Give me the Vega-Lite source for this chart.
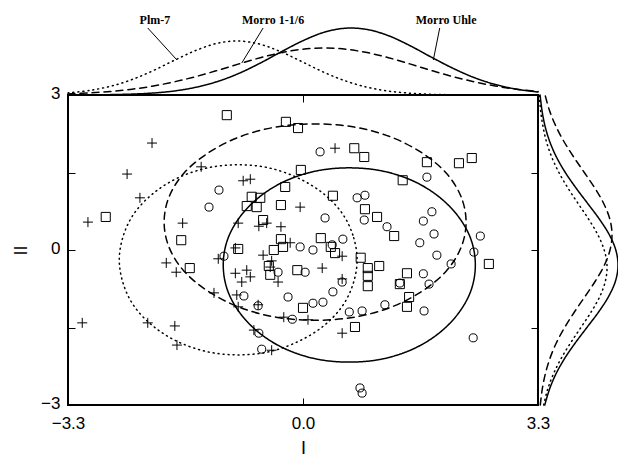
{
 "$schema": "https://vega.github.io/schema/vega-lite/v6.json",
 "padding": {"left": 11, "top": 5, "right": 0, "bottom": 5},
 "background": "white",
 "bounds": "flush",
 "config": {"view": {"stroke": null}, "font": "Liberation Sans", "concat": {"spacing": 0}},
 "datasets": {
  "pts": [
   {"g":"Plm-7","x":-2.12,"y":2.07},{"g":"Plm-7","x":-2.47,"y":1.47},{"g":"Plm-7","x":-2.29,"y":1.01},{"g":"Plm-7","x":-3.02,"y":0.54},
   {"g":"Plm-7","x":-1.43,"y":1.61},{"g":"Plm-7","x":-0.84,"y":1.34},{"g":"Plm-7","x":-0.74,"y":1.37},{"g":"Plm-7","x":-0.04,"y":0.83},
   {"g":"Plm-7","x":0.45,"y":1.97},{"g":"Plm-7","x":-0.91,"y":0.52},{"g":"Plm-7","x":-1.69,"y":0.52},{"g":"Plm-7","x":-0.62,"y":0.46},
   {"g":"Plm-7","x":-0.51,"y":0.52},{"g":"Plm-7","x":-0.31,"y":0.45},{"g":"Plm-7","x":-0.18,"y":0.14},{"g":"Plm-7","x":-0.95,"y":0.04},
   {"g":"Plm-7","x":-0.56,"y":-0.10},{"g":"Plm-7","x":-1.19,"y":-0.17},{"g":"Plm-7","x":-0.44,"y":-0.21},{"g":"Plm-7","x":-0.46,"y":-0.33},
   {"g":"Plm-7","x":-0.95,"y":-0.45},{"g":"Plm-7","x":-0.79,"y":-0.39},{"g":"Plm-7","x":-0.74,"y":-0.52},{"g":"Plm-7","x":-1.92,"y":-0.25},
   {"g":"Plm-7","x":-1.78,"y":-0.43},{"g":"Plm-7","x":-0.86,"y":-0.62},{"g":"Plm-7","x":-0.35,"y":-0.62},{"g":"Plm-7","x":0.27,"y":-0.35},
   {"g":"Plm-7","x":0.55,"y":-0.12},{"g":"Plm-7","x":0.55,"y":-0.56},{"g":"Plm-7","x":-1.25,"y":-0.83},{"g":"Plm-7","x":-0.93,"y":-0.87},
   {"g":"Plm-7","x":-0.91,"y":-1.10},{"g":"Plm-7","x":-0.63,"y":-1.06},{"g":"Plm-7","x":-0.27,"y":-1.30},{"g":"Plm-7","x":0.07,"y":-1.35},
   {"g":"Plm-7","x":-3.10,"y":-1.41},{"g":"Plm-7","x":-2.18,"y":-1.41},{"g":"Plm-7","x":-1.80,"y":-1.47},{"g":"Plm-7","x":-1.77,"y":-1.84},
   {"g":"Plm-7","x":-0.69,"y":-1.55},{"g":"Plm-7","x":-0.44,"y":-1.94},{"g":"Plm-7","x":0.55,"y":-1.61},
   {"g":"Morro Uhle","x":-1.18,"y":1.16},{"g":"Morro Uhle","x":-1.32,"y":0.83},{"g":"Morro Uhle","x":0.24,"y":1.90},{"g":"Morro Uhle","x":1.74,"y":1.41},
   {"g":"Morro Uhle","x":0.76,"y":1.01},{"g":"Morro Uhle","x":0.87,"y":1.06},{"g":"Morro Uhle","x":0.86,"y":0.58},{"g":"Morro Uhle","x":0.31,"y":0.62},
   {"g":"Morro Uhle","x":1.18,"y":0.45},{"g":"Morro Uhle","x":1.81,"y":0.74},{"g":"Morro Uhle","x":1.69,"y":0.56},{"g":"Morro Uhle","x":1.84,"y":0.31},
   {"g":"Morro Uhle","x":1.64,"y":0.14},{"g":"Morro Uhle","x":2.49,"y":0.27},{"g":"Morro Uhle","x":2.40,"y":-0.04},{"g":"Morro Uhle","x":1.88,"y":-0.10},
   {"g":"Morro Uhle","x":2.08,"y":-0.27},{"g":"Morro Uhle","x":1.69,"y":-0.46},{"g":"Morro Uhle","x":1.36,"y":-0.64},{"g":"Morro Uhle","x":1.77,"y":-0.66},
   {"g":"Morro Uhle","x":0.41,"y":0.10},{"g":"Morro Uhle","x":0.56,"y":0.21},{"g":"Morro Uhle","x":-0.04,"y":0.06},{"g":"Morro Uhle","x":0.14,"y":0.00},
   {"g":"Morro Uhle","x":0.03,"y":-0.43},{"g":"Morro Uhle","x":-0.35,"y":-0.43},{"g":"Morro Uhle","x":-1.11,"y":-0.12},{"g":"Morro Uhle","x":-0.21,"y":-0.91},
   {"g":"Morro Uhle","x":-0.83,"y":-0.89},{"g":"Morro Uhle","x":-0.63,"y":-1.08},{"g":"Morro Uhle","x":-0.15,"y":-1.34},{"g":"Morro Uhle","x":-0.62,"y":-1.61},
   {"g":"Morro Uhle","x":-0.58,"y":-1.92},{"g":"Morro Uhle","x":0.55,"y":-0.62},{"g":"Morro Uhle","x":0.42,"y":-0.81},{"g":"Morro Uhle","x":0.28,"y":-1.01},
   {"g":"Morro Uhle","x":0.14,"y":-1.03},{"g":"Morro Uhle","x":0.65,"y":-1.20},{"g":"Morro Uhle","x":0.83,"y":-1.18},{"g":"Morro Uhle","x":1.15,"y":-1.06},
   {"g":"Morro Uhle","x":1.70,"y":-1.18},{"g":"Morro Uhle","x":2.39,"y":-1.70},{"g":"Morro Uhle","x":0.80,"y":-2.67},{"g":"Morro Uhle","x":0.83,"y":-2.77},
   {"g":"Morro 1-1/6","x":-1.07,"y":2.61},{"g":"Morro 1-1/6","x":-0.24,"y":2.48},{"g":"Morro 1-1/6","x":-0.07,"y":2.36},{"g":"Morro 1-1/6","x":-2.77,"y":0.64},
   {"g":"Morro 1-1/6","x":-0.03,"y":1.55},{"g":"Morro 1-1/6","x":-0.25,"y":1.22},{"g":"Morro 1-1/6","x":-0.72,"y":1.03},{"g":"Morro 1-1/6","x":-0.60,"y":1.01},
   {"g":"Morro 1-1/6","x":-0.79,"y":0.85},{"g":"Morro 1-1/6","x":-0.65,"y":0.83},{"g":"Morro 1-1/6","x":-0.31,"y":0.87},{"g":"Morro 1-1/6","x":-0.56,"y":0.58},
   {"g":"Morro 1-1/6","x":-1.71,"y":0.19},{"g":"Morro 1-1/6","x":-0.31,"y":0.21},{"g":"Morro 1-1/6","x":-0.28,"y":0.06},{"g":"Morro 1-1/6","x":-0.41,"y":0.00},
   {"g":"Morro 1-1/6","x":-0.91,"y":0.02},{"g":"Morro 1-1/6","x":0.72,"y":1.97},{"g":"Morro 1-1/6","x":0.86,"y":1.80},{"g":"Morro 1-1/6","x":1.74,"y":1.70},
   {"g":"Morro 1-1/6","x":2.19,"y":1.68},{"g":"Morro 1-1/6","x":2.37,"y":1.78},{"g":"Morro 1-1/6","x":1.40,"y":1.35},{"g":"Morro 1-1/6","x":0.42,"y":1.05},
   {"g":"Morro 1-1/6","x":0.87,"y":0.79},{"g":"Morro 1-1/6","x":1.04,"y":0.64},{"g":"Morro 1-1/6","x":1.28,"y":0.27},{"g":"Morro 1-1/6","x":0.25,"y":0.23},
   {"g":"Morro 1-1/6","x":2.61,"y":-0.27},{"g":"Morro 1-1/6","x":1.46,"y":-0.45},{"g":"Morro 1-1/6","x":1.49,"y":-0.91},{"g":"Morro 1-1/6","x":0.39,"y":0.06},
   {"g":"Morro 1-1/6","x":0.45,"y":-0.06},{"g":"Morro 1-1/6","x":0.81,"y":-0.15},{"g":"Morro 1-1/6","x":0.91,"y":-0.35},{"g":"Morro 1-1/6","x":1.07,"y":-0.31},
   {"g":"Morro 1-1/6","x":0.91,"y":-0.50},{"g":"Morro 1-1/6","x":0.91,"y":-0.70},{"g":"Morro 1-1/6","x":-0.08,"y":-0.39},{"g":"Morro 1-1/6","x":-0.48,"y":-0.31},
   {"g":"Morro 1-1/6","x":-0.46,"y":-0.48},{"g":"Morro 1-1/6","x":-1.59,"y":-0.35},{"g":"Morro 1-1/6","x":0.00,"y":-1.12},{"g":"Morro 1-1/6","x":0.73,"y":-1.49},
   {"g":"Morro 1-1/6","x":1.36,"y":-0.66},{"g":"Morro 1-1/6","x":1.46,"y":-1.10}
  ],
  "ell": [
   {"g":"Morro Uhle","i":0,"x":2.42,"y":-0.29},{"g":"Morro Uhle","i":1,"x":2.36,"y":0.20},{"g":"Morro Uhle","i":2,"x":2.18,"y":0.65},{"g":"Morro Uhle","i":3,"x":1.90,"y":1.04},
   {"g":"Morro Uhle","i":4,"x":1.54,"y":1.34},{"g":"Morro Uhle","i":5,"x":1.11,"y":1.53},{"g":"Morro Uhle","i":6,"x":0.65,"y":1.59},{"g":"Morro Uhle","i":7,"x":0.19,"y":1.53},
   {"g":"Morro Uhle","i":8,"x":-0.24,"y":1.34},{"g":"Morro Uhle","i":9,"x":-0.60,"y":1.04},{"g":"Morro Uhle","i":10,"x":-0.88,"y":0.65},{"g":"Morro Uhle","i":11,"x":-1.06,"y":0.20},
   {"g":"Morro Uhle","i":12,"x":-1.12,"y":-0.29},{"g":"Morro Uhle","i":13,"x":-1.06,"y":-0.78},{"g":"Morro Uhle","i":14,"x":-0.88,"y":-1.23},{"g":"Morro Uhle","i":15,"x":-0.60,"y":-1.62},
   {"g":"Morro Uhle","i":16,"x":-0.24,"y":-1.92},{"g":"Morro Uhle","i":17,"x":0.19,"y":-2.11},{"g":"Morro Uhle","i":18,"x":0.65,"y":-2.17},{"g":"Morro Uhle","i":19,"x":1.11,"y":-2.11},
   {"g":"Morro Uhle","i":20,"x":1.54,"y":-1.92},{"g":"Morro Uhle","i":21,"x":1.90,"y":-1.62},{"g":"Morro Uhle","i":22,"x":2.18,"y":-1.23},{"g":"Morro Uhle","i":23,"x":2.36,"y":-0.78},
   {"g":"Morro 1-1/6","i":0,"x":2.29,"y":0.54},{"g":"Morro 1-1/6","i":1,"x":2.22,"y":1.03},{"g":"Morro 1-1/6","i":2,"x":2.01,"y":1.49},{"g":"Morro 1-1/6","i":3,"x":1.67,"y":1.88},
   {"g":"Morro 1-1/6","i":4,"x":1.23,"y":2.19},{"g":"Morro 1-1/6","i":5,"x":0.72,"y":2.38},{"g":"Morro 1-1/6","i":6,"x":0.17,"y":2.44},{"g":"Morro 1-1/6","i":7,"x":-0.38,"y":2.38},
   {"g":"Morro 1-1/6","i":8,"x":-0.89,"y":2.19},{"g":"Morro 1-1/6","i":9,"x":-1.33,"y":1.88},{"g":"Morro 1-1/6","i":10,"x":-1.67,"y":1.49},{"g":"Morro 1-1/6","i":11,"x":-1.88,"y":1.03},
   {"g":"Morro 1-1/6","i":12,"x":-1.95,"y":0.54},{"g":"Morro 1-1/6","i":13,"x":-1.88,"y":0.05},{"g":"Morro 1-1/6","i":14,"x":-1.67,"y":-0.41},{"g":"Morro 1-1/6","i":15,"x":-1.33,"y":-0.80},
   {"g":"Morro 1-1/6","i":16,"x":-0.89,"y":-1.11},{"g":"Morro 1-1/6","i":17,"x":-0.38,"y":-1.30},{"g":"Morro 1-1/6","i":18,"x":0.17,"y":-1.36},{"g":"Morro 1-1/6","i":19,"x":0.72,"y":-1.30},
   {"g":"Morro 1-1/6","i":20,"x":1.23,"y":-1.11},{"g":"Morro 1-1/6","i":21,"x":1.67,"y":-0.80},{"g":"Morro 1-1/6","i":22,"x":2.01,"y":-0.41},{"g":"Morro 1-1/6","i":23,"x":2.22,"y":0.05},
   {"g":"Plm-7","i":0,"x":0.76,"y":-0.19},{"g":"Plm-7","i":1,"x":0.70,"y":0.29},{"g":"Plm-7","i":2,"x":0.54,"y":0.73},{"g":"Plm-7","i":3,"x":0.27,"y":1.11},
   {"g":"Plm-7","i":4,"x":-0.08,"y":1.40},{"g":"Plm-7","i":5,"x":-0.48,"y":1.59},{"g":"Plm-7","i":6,"x":-0.91,"y":1.65},{"g":"Plm-7","i":7,"x":-1.34,"y":1.59},
   {"g":"Plm-7","i":8,"x":-1.75,"y":1.40},{"g":"Plm-7","i":9,"x":-2.09,"y":1.11},{"g":"Plm-7","i":10,"x":-2.36,"y":0.73},{"g":"Plm-7","i":11,"x":-2.52,"y":0.29},
   {"g":"Plm-7","i":12,"x":-2.58,"y":-0.19},{"g":"Plm-7","i":13,"x":-2.52,"y":-0.67},{"g":"Plm-7","i":14,"x":-2.36,"y":-1.11},{"g":"Plm-7","i":15,"x":-2.09,"y":-1.49},
   {"g":"Plm-7","i":16,"x":-1.75,"y":-1.78},{"g":"Plm-7","i":17,"x":-1.34,"y":-1.97},{"g":"Plm-7","i":18,"x":-0.91,"y":-2.03},{"g":"Plm-7","i":19,"x":-0.48,"y":-1.97},
   {"g":"Plm-7","i":20,"x":-0.08,"y":-1.78},{"g":"Plm-7","i":21,"x":0.27,"y":-1.49},{"g":"Plm-7","i":22,"x":0.54,"y":-1.11},{"g":"Plm-7","i":23,"x":0.70,"y":-0.67}
  ],
  "top": [
   {"g":"Morro Uhle","x":-3.3,"h":0.05},{"g":"Morro Uhle","x":-3.0,"h":0.14},{"g":"Morro Uhle","x":-2.7,"h":0.38},{"g":"Morro Uhle","x":-2.4,"h":0.91},
   {"g":"Morro Uhle","x":-2.1,"h":2.0},{"g":"Morro Uhle","x":-1.8,"h":4.1},{"g":"Morro Uhle","x":-1.5,"h":7.8},{"g":"Morro Uhle","x":-1.2,"h":13.5},
   {"g":"Morro Uhle","x":-0.9,"h":21.6},{"g":"Morro Uhle","x":-0.6,"h":31.9},{"g":"Morro Uhle","x":-0.3,"h":43.4},{"g":"Morro Uhle","x":0.0,"h":54.3},
   {"g":"Morro Uhle","x":0.3,"h":62.8},{"g":"Morro Uhle","x":0.6,"h":66.8},{"g":"Morro Uhle","x":0.9,"h":65.5},{"g":"Morro Uhle","x":1.2,"h":59.3},
   {"g":"Morro Uhle","x":1.5,"h":49.4},{"g":"Morro Uhle","x":1.8,"h":37.9},{"g":"Morro Uhle","x":2.1,"h":26.9},{"g":"Morro Uhle","x":2.4,"h":17.5},
   {"g":"Morro Uhle","x":2.7,"h":10.5},{"g":"Morro Uhle","x":3.0,"h":5.8},{"g":"Morro Uhle","x":3.3,"h":3.0},
   {"g":"Plm-7","x":-3.3,"h":2.1},{"g":"Plm-7","x":-3.0,"h":4.5},{"g":"Plm-7","x":-2.7,"h":8.8},{"g":"Plm-7","x":-2.4,"h":15.5},
   {"g":"Plm-7","x":-2.1,"h":24.5},{"g":"Plm-7","x":-1.8,"h":34.9},{"g":"Plm-7","x":-1.5,"h":44.7},{"g":"Plm-7","x":-1.2,"h":51.8},
   {"g":"Plm-7","x":-0.9,"h":54.0},{"g":"Plm-7","x":-0.6,"h":50.7},{"g":"Plm-7","x":-0.3,"h":42.9},{"g":"Plm-7","x":0.0,"h":32.8},
   {"g":"Plm-7","x":0.3,"h":22.5},{"g":"Plm-7","x":0.6,"h":14.0},{"g":"Plm-7","x":0.9,"h":7.8},{"g":"Plm-7","x":1.2,"h":3.9},
   {"g":"Plm-7","x":1.5,"h":1.8},{"g":"Plm-7","x":1.8,"h":0.7},{"g":"Plm-7","x":2.1,"h":0.27},{"g":"Plm-7","x":2.4,"h":0.09},
   {"g":"Plm-7","x":2.7,"h":0.03},{"g":"Plm-7","x":3.0,"h":0.01},{"g":"Plm-7","x":3.3,"h":0.0},
   {"g":"Morro 1-1/6","x":-3.3,"h":1.1},{"g":"Morro 1-1/6","x":-3.0,"h":2.1},{"g":"Morro 1-1/6","x":-2.7,"h":3.6},{"g":"Morro 1-1/6","x":-2.4,"h":5.8},
   {"g":"Morro 1-1/6","x":-2.1,"h":9.0},{"g":"Morro 1-1/6","x":-1.8,"h":13.3},{"g":"Morro 1-1/6","x":-1.5,"h":18.5},{"g":"Morro 1-1/6","x":-1.2,"h":24.6},
   {"g":"Morro 1-1/6","x":-0.9,"h":31.1},{"g":"Morro 1-1/6","x":-0.6,"h":37.3},{"g":"Morro 1-1/6","x":-0.3,"h":42.4},{"g":"Morro 1-1/6","x":0.0,"h":45.8},
   {"g":"Morro 1-1/6","x":0.3,"h":47.0},{"g":"Morro 1-1/6","x":0.6,"h":45.8},{"g":"Morro 1-1/6","x":0.9,"h":42.4},{"g":"Morro 1-1/6","x":1.2,"h":37.3},
   {"g":"Morro 1-1/6","x":1.5,"h":31.1},{"g":"Morro 1-1/6","x":1.8,"h":24.6},{"g":"Morro 1-1/6","x":2.1,"h":18.5},{"g":"Morro 1-1/6","x":2.4,"h":13.3},
   {"g":"Morro 1-1/6","x":2.7,"h":9.0},{"g":"Morro 1-1/6","x":3.0,"h":5.8},{"g":"Morro 1-1/6","x":3.3,"h":3.6}
  ],
  "right": [
   {"g":"Morro Uhle","y":-3.0,"h":6.8},{"g":"Morro Uhle","y":-2.7,"h":11.4},{"g":"Morro Uhle","y":-2.4,"h":17.9},{"g":"Morro Uhle","y":-2.1,"h":26.6},
   {"g":"Morro Uhle","y":-1.8,"h":37.2},{"g":"Morro Uhle","y":-1.5,"h":48.9},{"g":"Morro Uhle","y":-1.2,"h":60.6},{"g":"Morro Uhle","y":-0.9,"h":70.6},
   {"g":"Morro Uhle","y":-0.6,"h":77.5},{"g":"Morro Uhle","y":-0.3,"h":80.0},{"g":"Morro Uhle","y":0.0,"h":77.8},{"g":"Morro Uhle","y":0.3,"h":71.2},
   {"g":"Morro Uhle","y":0.6,"h":61.3},{"g":"Morro Uhle","y":0.9,"h":49.7},{"g":"Morro Uhle","y":1.2,"h":38.0},{"g":"Morro Uhle","y":1.5,"h":27.3},
   {"g":"Morro Uhle","y":1.8,"h":18.4},{"g":"Morro Uhle","y":2.1,"h":11.7},{"g":"Morro Uhle","y":2.4,"h":7.0},{"g":"Morro Uhle","y":2.7,"h":4.0},
   {"g":"Morro Uhle","y":3.0,"h":2.1},
   {"g":"Morro 1-1/6","y":-3.0,"h":2.3},{"g":"Morro 1-1/6","y":-2.7,"h":4.2},{"g":"Morro 1-1/6","y":-2.4,"h":7.3},{"g":"Morro 1-1/6","y":-2.1,"h":11.9},
   {"g":"Morro 1-1/6","y":-1.8,"h":18.3},{"g":"Morro 1-1/6","y":-1.5,"h":26.6},{"g":"Morro 1-1/6","y":-1.2,"h":36.4},{"g":"Morro 1-1/6","y":-0.9,"h":47.0},
   {"g":"Morro 1-1/6","y":-0.6,"h":57.4},{"g":"Morro 1-1/6","y":-0.3,"h":66.2},{"g":"Morro 1-1/6","y":0.0,"h":72.0},{"g":"Morro 1-1/6","y":0.3,"h":74.0},
   {"g":"Morro 1-1/6","y":0.6,"h":71.8},{"g":"Morro 1-1/6","y":0.9,"h":65.7},{"g":"Morro 1-1/6","y":1.2,"h":56.8},{"g":"Morro 1-1/6","y":1.5,"h":46.3},
   {"g":"Morro 1-1/6","y":1.8,"h":35.7},{"g":"Morro 1-1/6","y":2.1,"h":25.9},{"g":"Morro 1-1/6","y":2.4,"h":17.8},{"g":"Morro 1-1/6","y":2.7,"h":11.5},
   {"g":"Morro 1-1/6","y":3.0,"h":7.1},
   {"g":"Plm-7","y":-3.0,"h":5.7},{"g":"Plm-7","y":-2.7,"h":9.6},{"g":"Plm-7","y":-2.4,"h":15.4},{"g":"Plm-7","y":-2.1,"h":23.1},
   {"g":"Plm-7","y":-1.8,"h":32.5},{"g":"Plm-7","y":-1.5,"h":42.9},{"g":"Plm-7","y":-1.2,"h":53.1},{"g":"Plm-7","y":-0.9,"h":61.8},
   {"g":"Plm-7","y":-0.6,"h":67.4},{"g":"Plm-7","y":-0.3,"h":69.0},{"g":"Plm-7","y":0.0,"h":66.2},{"g":"Plm-7","y":0.3,"h":59.7},
   {"g":"Plm-7","y":0.6,"h":50.5},{"g":"Plm-7","y":0.9,"h":40.1},{"g":"Plm-7","y":1.2,"h":29.9},{"g":"Plm-7","y":1.5,"h":20.9},
   {"g":"Plm-7","y":1.8,"h":13.7},{"g":"Plm-7","y":2.1,"h":8.4},{"g":"Plm-7","y":2.4,"h":4.9},{"g":"Plm-7","y":2.7,"h":2.6},
   {"g":"Plm-7","y":3.0,"h":1.3}
  ],
  "labels": [
   {"t":"Plm-7","x":-2.08,"h":75},{"t":"Morro 1-1/6","x":-0.42,"h":75},{"t":"Morro Uhle","x":2.01,"h":75}
  ],
  "leaders": [
   {"x":-2.18,"h":67,"x2":-1.77,"h2":35},{"x":-0.56,"h":67,"x2":-0.86,"h2":32},{"x":1.92,"h":67,"x2":1.83,"h2":35}
  ]
 },
 "vconcat": [
  {
   "width": 470, "height": 90,
   "view": {"stroke": null},
   "layer": [
    {
     "data": {"name": "top"},
     "mark": {"type": "line", "interpolate": "cardinal", "color": "black", "strokeWidth": 1.5, "strokeCap": "round", "clip": false},
     "encoding": {
      "x": {"field": "x", "type": "quantitative", "scale": {"domain": [-3.3, 3.3], "nice": false, "zero": false}, "axis": null},
      "y": {"field": "h", "type": "quantitative", "scale": {"domain": [0, 90], "nice": false, "zero": false}, "axis": null},
      "detail": {"field": "g"},
      "strokeDash": {"field": "g", "type": "nominal", "scale": {"domain": ["Plm-7", "Morro 1-1/6", "Morro Uhle"], "range": [[1, 4], [7, 5], [1, 0]]}, "legend": null}
     }
    },
    {
     "data": {"name": "leaders"},
     "mark": {"type": "rule", "color": "black", "strokeWidth": 1},
     "encoding": {
      "x": {"field": "x", "type": "quantitative", "scale": {"domain": [-3.3, 3.3], "nice": false, "zero": false}, "axis": null},
      "y": {"field": "h", "type": "quantitative", "scale": {"domain": [0, 90], "nice": false, "zero": false}, "axis": null},
      "x2": {"field": "x2"},
      "y2": {"field": "h2"}
     }
    },
    {
     "data": {"name": "labels"},
     "mark": {"type": "text", "font": "Liberation Serif", "fontSize": 12, "fontWeight": "bold", "color": "black"},
     "encoding": {
      "x": {"field": "x", "type": "quantitative", "scale": {"domain": [-3.3, 3.3], "nice": false, "zero": false}, "axis": null},
      "y": {"field": "h", "type": "quantitative", "scale": {"domain": [0, 90], "nice": false, "zero": false}, "axis": null},
      "text": {"field": "t"}
     }
    }
   ]
  },
  {
   "bounds": "flush",
   "hconcat": [
    {
     "width": 470, "height": 310,
     "view": {"stroke": "black", "strokeWidth": 2},
     "resolve": {"scale": {"x": "independent", "y": "independent"}},
     "layer": [
      {
       "data": {"name": "ell"},
       "mark": {"type": "line", "interpolate": "cardinal-closed", "color": "black", "strokeWidth": 1.5, "strokeCap": "round"},
       "encoding": {
        "x": {"field": "x", "type": "quantitative", "scale": {"domain": [-3.3, 3.3], "nice": false, "zero": false},
              "axis": {"orient": "top", "values": [0], "labels": false, "domain": false, "grid": false, "tickSize": -7, "tickColor": "black", "title": null}},
        "y": {"field": "y", "type": "quantitative", "scale": {"domain": [-3, 3], "nice": false, "zero": false},
              "axis": {"orient": "right", "values": [-1.5, 0, 1.5], "labels": false, "domain": false, "grid": false, "tickSize": -7, "tickColor": "black", "title": null}},
        "order": {"field": "i", "type": "quantitative"},
        "detail": {"field": "g"},
        "strokeDash": {"field": "g", "type": "nominal", "scale": {"domain": ["Plm-7", "Morro 1-1/6", "Morro Uhle"], "range": [[1, 4], [7, 5], [1, 0]]}, "legend": null}
       }
      },
      {
       "data": {"name": "pts"},
       "mark": {"type": "point", "filled": false, "stroke": "black", "strokeWidth": 1, "opacity": 1},
       "encoding": {
        "x": {"field": "x", "type": "quantitative", "scale": {"domain": [-3.3, 3.3], "nice": false, "zero": false},
              "axis": {"orient": "bottom", "values": [-3.3, 0, 3.3], "format": ".1f", "labelFlush": false, "domain": false, "grid": false, "tickSize": -7, "tickColor": "black",
                       "labelFontSize": 17, "labelColor": "black", "labelPadding": 17, "title": "I", "titleFontSize": 18, "titleFontWeight": "normal", "titleColor": "black", "titlePadding": 8}},
        "y": {"field": "y", "type": "quantitative", "scale": {"domain": [-3, 3], "nice": false, "zero": false},
              "axis": {"orient": "left", "values": [-3, -1.5, 0, 1.5, 3], "format": "d", "labelExpr": "abs(datum.value) == 1.5 ? '' : datum.label", "labelFlush": false, "labelOffset": -2, "domain": false, "grid": false, "tickSize": -7, "tickColor": "black",
                       "labelFontSize": 17, "labelColor": "black", "labelPadding": 15, "title": "II", "titleFontSize": 18, "titleFontWeight": "normal", "titleColor": "black", "titlePadding": 10}},
        "shape": {"field": "g", "type": "nominal", "scale": {"domain": ["Plm-7", "Morro 1-1/6", "Morro Uhle"], "range": ["M-1,0L1,0M0,-1L0,1", "square", "circle"]}, "legend": null},
        "size": {"field": "g", "type": "nominal", "scale": {"domain": ["Plm-7", "Morro 1-1/6", "Morro Uhle"], "range": [100, 65, 50]}, "legend": null}
       }
      }
     ]
    },
    {
     "width": 80, "height": 310,
     "view": {"stroke": null},
     "layer": [
      {
       "data": {"name": "right"},
       "mark": {"type": "line", "interpolate": "cardinal", "color": "black", "strokeWidth": 1.5, "strokeCap": "round", "clip": false},
       "encoding": {
        "x": {"field": "h", "type": "quantitative", "scale": {"domain": [0, 80], "nice": false, "zero": false}, "axis": null},
        "y": {"field": "y", "type": "quantitative", "scale": {"domain": [-3, 3], "nice": false, "zero": false}, "axis": null},
        "order": {"field": "y", "type": "quantitative"},
        "detail": {"field": "g"},
        "strokeDash": {"field": "g", "type": "nominal", "scale": {"domain": ["Plm-7", "Morro 1-1/6", "Morro Uhle"], "range": [[1, 4], [7, 5], [1, 0]]}, "legend": null}
       }
      }
     ]
    }
   ]
  }
 ]
}
